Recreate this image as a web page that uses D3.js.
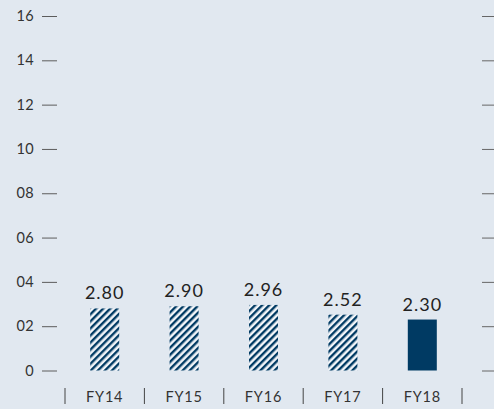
<!DOCTYPE html>
<html>
<head>
<meta charset="utf-8">
<script src="https://cdn.jsdelivr.net/npm/d3@7"></script>
<style>
  html, body { margin: 0; padding: 0; background: #e1e8f0; }
  svg { display: block; font-family: "Lato", "Noto Sans", sans-serif; }
</style>
</head>
<body>
<div id="chart"></div>
<script>
// chart data
const years = ["FY14", "FY15", "FY16", "FY17", "FY18"];
const values = [2.80, 2.90, 2.96, 2.52, 2.30];
const hatched = [true, true, true, true, false];
const yTicks = [0, 2, 4, 6, 8, 10, 12, 14, 16];

const width = 494, height = 409;
const navy = "#003a63";

const svg = d3.select("#chart").append("svg")
    .attr("width", width)
    .attr("height", height);

svg.append("rect")
    .attr("width", width).attr("height", height)
    .attr("fill", "#e1e8f0");

// diagonal hatch for the past years
const pat = svg.append("defs").append("pattern")
    .attr("id", "hatch")
    .attr("patternUnits", "userSpaceOnUse")
    .attr("width", 5).attr("height", 5)
    .attr("patternTransform", "rotate(45)");
pat.append("rect").attr("width", 5).attr("height", 5).attr("fill", "#f2f5f9");
pat.append("rect").attr("width", 2.4).attr("height", 5).attr("fill", navy);

// scales
const x = d3.scaleBand()
    .domain(years)
    .range([65, 462]);

const y = d3.scaleLinear()
    .domain([0, 16])
    .range([370.5, 16]);

const fmt = d => d === 0 ? "0" : d3.format("02d")(d);

// left axis: labels + short dashes
const yl = svg.append("g")
    .attr("transform", "translate(57,0)")
    .call(d3.axisLeft(y).tickValues(yTicks).tickSize(15).tickPadding(8).tickFormat(fmt));
yl.select(".domain").remove();
yl.selectAll("line").attr("stroke", "#5c5c5c");
yl.selectAll("text")
    .attr("font-size", 14.5)
    .attr("fill", "#333")
    .attr("letter-spacing", 0.4)
    .attr("font-family", "Lato, sans-serif");

// right axis: dashes only
const yr = svg.append("g")
    .attr("transform", "translate(482,0)")
    .call(d3.axisRight(y).tickValues(yTicks).tickSize(12).tickFormat(""));
yr.select(".domain").remove();
yr.selectAll("line").attr("stroke", "#666");

// bars
const barW = 29;
svg.append("g").selectAll("rect")
    .data(years)
    .join("rect")
    .attr("x", (d) => x(d) + x.bandwidth() / 2 - barW / 2)
    .attr("y", (d, i) => y(values[i]))
    .attr("width", barW)
    .attr("height", (d, i) => y(0) - y(values[i]))
    .attr("fill", (d, i) => hatched[i] ? "url(#hatch)" : navy);

// value labels
svg.append("g").selectAll("text")
    .data(years)
    .join("text")
    .attr("x", d => x(d) + x.bandwidth() / 2)
    .attr("y", (d, i) => y(values[i]) - 9)
    .attr("text-anchor", "middle")
    .attr("font-size", 18)
    .attr("letter-spacing", 1)
    .attr("fill", "#222")
    .text((d, i) => values[i].toFixed(2));

// category labels
svg.append("g").selectAll("text")
    .data(years)
    .join("text")
    .attr("x", d => x(d) + x.bandwidth() / 2)
    .attr("y", 402)
    .attr("text-anchor", "middle")
    .attr("font-size", 14.5)
    .attr("letter-spacing", 0.8)
    .attr("fill", "#333")
    .text(d => d);

// separators between categories
const seps = years.map(d => x(d)).concat([x.range()[1]]);
svg.append("g").selectAll("line")
    .data(seps)
    .join("line")
    .attr("x1", d => d).attr("x2", d => d)
    .attr("y1", 388).attr("y2", 404)
    .attr("stroke", "#444")
    .attr("stroke-width", 1);
</script>
</body>
</html>
